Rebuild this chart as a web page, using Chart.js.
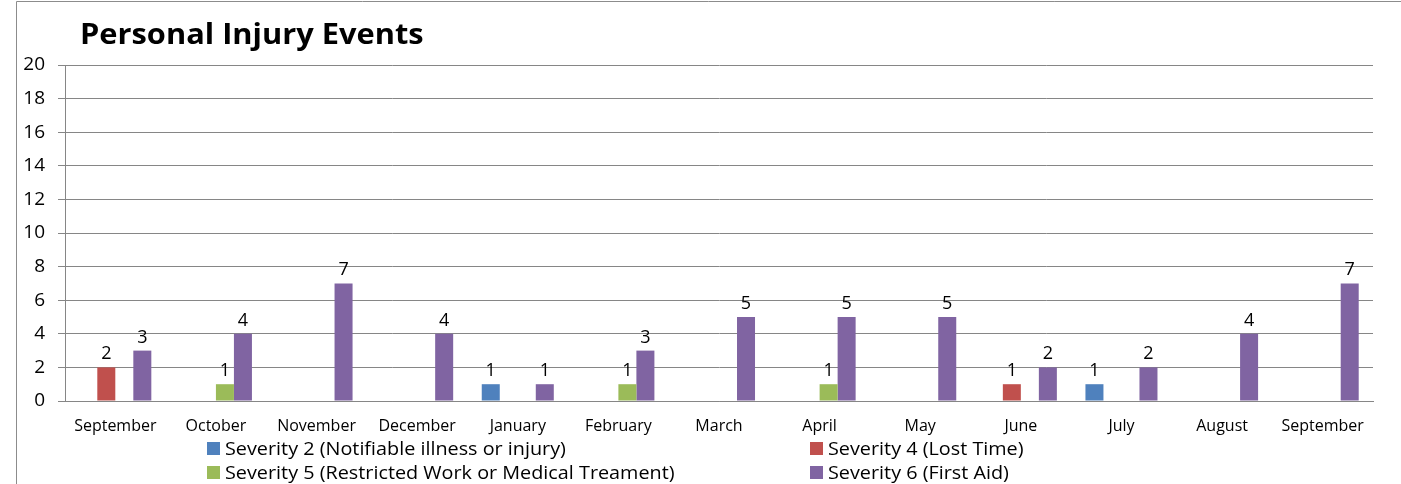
<!DOCTYPE html>
<html>
<head>
<meta charset="utf-8">
<script src="https://cdn.jsdelivr.net/npm/chart.js@4.4.1/dist/chart.umd.min.js"></script>
<style>
  html, body { margin: 0; padding: 0; background: #ffffff; }
  #wrap { width: 1401px; height: 484px; position: relative; }
</style>
</head>
<body>
<div id="wrap"><canvas id="chart" width="1401" height="484"></canvas></div>
<script>
// Monthly personal injury events by severity
const months = ['September', 'October', 'November', 'December', 'January', 'February',
  'March', 'April', 'May', 'June', 'July', 'August', 'September'];
const severity2 = [0, 0, 0, 0, 1, 0, 0, 0, 0, 0, 1, 0, 0];
const severity4 = [2, 0, 0, 0, 0, 0, 0, 0, 0, 1, 0, 0, 0];
const severity5 = [0, 1, 0, 0, 0, 1, 0, 1, 0, 0, 0, 0, 0];
const severity6 = [3, 4, 7, 4, 1, 3, 5, 5, 5, 2, 2, 4, 7];
const seriesNames = [
  'Severity 2 (Notifiable illness or injury)',
  'Severity 4 (Lost Time)',
  'Severity 5 (Restricted Work or Medical Treament)',
  'Severity 6 (First Aid)'
];
const yTicks = [0, 2, 4, 6, 8, 10, 12, 14, 16, 18, 20];
const chartTitle = 'Personal Injury Events';

const colors = ['#4F81BD', '#C0504D', '#9BBB59', '#8064A2'];
const FONT = '"Open Sans", "Noto Sans", sans-serif';
const TEXT_STRETCH = 1.1; // wider lettering for title and legend

// Outer frame and title
const framePlugin = {
  id: 'frame',
  beforeDraw(chart) {
    const ctx = chart.ctx;
    ctx.save();
    ctx.strokeStyle = '#8c8c8c';
    ctx.lineWidth = 1;
    ctx.beginPath();
    ctx.moveTo(16.5, chart.height);
    ctx.lineTo(16.5, 1.5);
    ctx.lineTo(chart.width, 1.5);
    ctx.stroke();
    ctx.fillStyle = '#000000';
    ctx.font = 'bold 28px ' + FONT;
    ctx.textBaseline = 'alphabetic';
    ctx.textAlign = 'left';
    ctx.translate(80, 44);
    ctx.scale(TEXT_STRETCH, 1);
    ctx.fillText(chartTitle, 0, 0);
    ctx.restore();
  }
};

// Value labels above each non-zero bar
const valueLabels = {
  id: 'valueLabels',
  afterDatasetsDraw(chart) {
    const ctx = chart.ctx;
    ctx.save();
    ctx.fillStyle = '#000000';
    ctx.font = '18px ' + FONT;
    ctx.textAlign = 'center';
    ctx.textBaseline = 'alphabetic';
    chart.data.datasets.forEach((ds, i) => {
      const meta = chart.getDatasetMeta(i);
      meta.data.forEach((bar, j) => {
        const v = ds.data[j];
        if (v > 0) ctx.fillText(String(v), bar.x, bar.y - 8);
      });
    });
    ctx.restore();
  }
};

// Two-column legend under the axis labels
const gridLegend = {
  id: 'gridLegend',
  afterDraw(chart) {
    const ctx = chart.ctx;
    const cols = [207, 810];
    const rows = [448, 472];
    ctx.save();
    ctx.font = '18px ' + FONT;
    ctx.textBaseline = 'alphabetic';
    ctx.textAlign = 'left';
    chart.data.datasets.forEach((ds, i) => {
      const x = cols[i % 2];
      const y = rows[Math.floor(i / 2)];
      ctx.fillStyle = ds.backgroundColor;
      ctx.fillRect(x, y - 6, 13, 13);
      ctx.fillStyle = '#000000';
      ctx.save();
      ctx.translate(x + 18, y + 7);
      ctx.scale(TEXT_STRETCH, 1);
      ctx.fillText(ds.label, 0, 0);
      ctx.restore();
    });
    ctx.restore();
  }
};

const seriesData = [severity2, severity4, severity5, severity6];

new Chart(document.getElementById('chart'), {
  type: 'bar',
  data: {
    labels: months,
    datasets: seriesData.map((d, i) => ({
      label: seriesNames[i],
      data: d,
      backgroundColor: colors[i],
      borderWidth: 0,
      categoryPercentage: 0.716,
      barPercentage: 1.0
    }))
  },
  options: {
    responsive: false,
    animation: false,
    devicePixelRatio: 1,
    layout: { padding: { left: 0, right: 28, top: 65, bottom: 33 } },
    plugins: {
      legend: { display: false },
      title: { display: false },
      tooltip: { enabled: false }
    },
    scales: {
      x: {
        grid: { display: false },
        border: { display: true, color: '#868686', width: 1 },
        ticks: {
          color: '#000000',
          font: { family: FONT, size: 16 },
          maxRotation: 0,
          autoSkip: false,
          padding: 8
        },
        afterFit(scale) { scale.height = 50; }
      },
      y: {
        min: 0,
        max: 20,
        afterBuildTicks(scale) { scale.ticks = yTicks.map(v => ({ value: v })); },
        grid: { color: '#868686', lineWidth: 1, tickLength: 7, drawTicks: true },
        border: { display: true, color: '#868686', width: 1 },
        ticks: {
          color: '#000000',
          font: { family: FONT, size: 19 },
          padding: 13
        },
        afterFit(scale) { scale.width = 65; }
      }
    }
  },
  plugins: [framePlugin, valueLabels, gridLegend]
});
</script>
</body>
</html>
